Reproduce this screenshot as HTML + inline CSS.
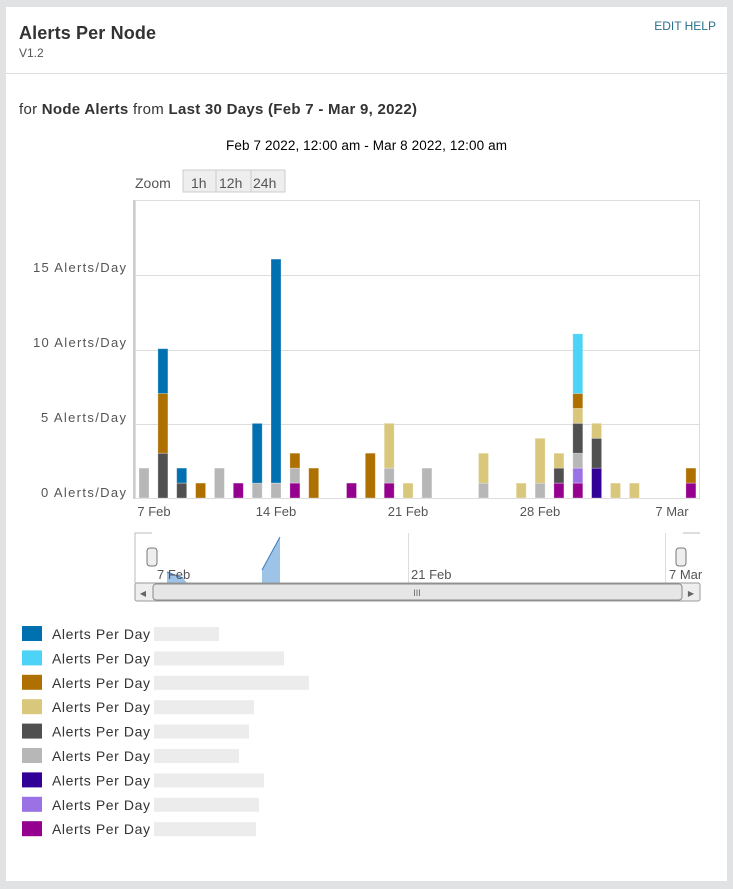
<!DOCTYPE html>
<html><head><meta charset="utf-8"><style>
body{margin:0;background:#e1e2e3;width:733px;height:889px;overflow:hidden;font-family:"Liberation Sans",sans-serif}
.card{position:absolute;left:6px;top:7px;width:721px;height:874px;background:#fff}
</style></head><body>
<div class="card"></div>
<svg id="s" width="733" height="889" style="position:absolute;left:0;top:0" font-family="Liberation Sans, sans-serif">
<text x="19" y="39" font-size="18" font-weight="bold" fill="#333" textLength="137">Alerts Per Node</text>
<text x="19" y="57" font-size="12" fill="#555">V1.2</text>
<text x="716" y="30" font-size="12" fill="#2a6f8f" text-anchor="end">EDIT  HELP</text>
<line x1="6" y1="73.5" x2="727" y2="73.5" stroke="#ddd"/>
<text x="19" y="114" font-size="15" fill="#333" textLength="398">for <tspan font-weight="bold">Node Alerts</tspan> from <tspan font-weight="bold">Last 30 Days (Feb 7 - Mar 9, 2022)</tspan></text>
<text x="226" y="150" font-size="13.5" fill="#000" textLength="281">Feb 7 2022, 12:00 am - Mar 8 2022, 12:00 am</text>
<text x="135" y="188" font-size="14" fill="#555">Zoom</text>
<g font-size="14" fill="#555"><rect x="183" y="170" width="102" height="22" fill="#eee" stroke="#ccc"/>
<line x1="216" y1="170" x2="216" y2="192" stroke="#ccc"/><line x1="251" y1="170" x2="251" y2="192" stroke="#ccc"/>
<text x="191" y="188">1h</text><text x="219" y="188">12h</text><text x="253" y="188">24h</text></g>
<rect x="135.5" y="200.5" width="564" height="298" fill="none" stroke="#ddd"/>
<line x1="134" y1="200" x2="134" y2="499" stroke="#ccc" stroke-width="2"/>
<g stroke="#ddd"><line x1="135" y1="275.5" x2="699" y2="275.5"/><line x1="135" y1="350.5" x2="699" y2="350.5"/><line x1="135" y1="424.5" x2="699" y2="424.5"/></g>
<g font-size="13" fill="#555"><text x="33" y="272" textLength="93">15 Alerts/Day</text><text x="33" y="347" textLength="93">10 Alerts/Day</text><text x="41" y="422" textLength="85">5 Alerts/Day</text><text x="41" y="497" textLength="85">0 Alerts/Day</text></g>
<g id="bars"></g>
<g font-size="13" fill="#555" text-anchor="middle"><text x="154" y="516">7 Feb</text><text x="276" y="516">14 Feb</text><text x="408" y="516">21 Feb</text><text x="540" y="516">28 Feb</text><text x="672" y="516">7 Mar</text></g>
<path d="M152 533H135V583M683 533H700" fill="none" stroke="#bbb"/>
<line x1="408.5" y1="533" x2="408.5" y2="583" stroke="#ddd"/><line x1="665.5" y1="533" x2="665.5" y2="583" stroke="#ddd"/>
<path d="M167 583V572L183 578L187 583Z" fill="#9dc3e6"/><path d="M167 572L183 578" stroke="#3a7cc0"/>
<path d="M262 583V570L280 537V583Z" fill="#9dc3e6"/><path d="M262 570L280 537" stroke="#3a7cc0"/>
<g font-size="13" fill="#555"><text x="157" y="579">7 Feb</text><text x="411" y="579">21 Feb</text><text x="669" y="579">7 Mar</text></g>
<rect x="147" y="548" width="10" height="18" rx="3" fill="#eee" stroke="#777"/><rect x="676" y="548" width="10" height="18" rx="3" fill="#eee" stroke="#777"/>
<rect x="135" y="583" width="565" height="18" rx="2" fill="#eee" stroke="#999"/>
<rect x="153" y="584" width="529" height="16" rx="3" fill="#e6e6e6" stroke="#888"/>
<text x="143" y="596" font-size="8" fill="#666" text-anchor="middle">◀</text><text x="691" y="596" font-size="8" fill="#666" text-anchor="middle">▶</text>
<text x="417" y="596" font-size="9" fill="#666" text-anchor="middle">III</text>
<g id="leg" font-size="14" fill="#333"></g>
</svg>
<script>
var C={b:'#0070b0',c:'#4cd3f5',o:'#ae7000',t:'#d9c77b',d:'#505050',g:'#b7b7b7',i:'#320096',l:'#9b72e6',p:'#95008f'};
var D={0:'g2',1:'d3o4b3',2:'d1b1',3:'o1',4:'g2',5:'p1',6:'g1b4',7:'g1b15',8:'p1g1o1',9:'o2',11:'p1',12:'o3',13:'p1g1t3',14:'t1',15:'g2',18:'g1t2',20:'t1',21:'g1t3',22:'p1d1t1',23:'p1l1g1d2t1o1c4',24:'i2d2t1',25:'t1',26:'t1',29:'p1o1'};
var s='',u=14.93;
for(var k in D){var x=144+k*18.86-5,y=498,m=D[k].match(/[a-z]\d+/g);
m.forEach(function(q){var h=+q.slice(1)*u;y-=h;s+='<rect x="'+x.toFixed(1)+'" y="'+y.toFixed(1)+'" width="10" height="'+h.toFixed(1)+'" fill="'+C[q[0]]+'" stroke="rgba(255,255,255,0.35)" stroke-width="0.8"/>';});}
document.getElementById('bars').innerHTML=s;
var L='bcotdgilp',w=[65,130,155,100,95,85,110,105,102],l='';
for(var i=0;i<9;i++){var y=626+i*24.4;l+='<rect x="22" y="'+y+'" width="20" height="15" fill="'+C[L[i]]+'"/><text x="52" y="'+(y+13)+'" textLength="98">Alerts Per Day</text><rect x="154" y="'+(y+1)+'" width="'+w[i]+'" height="14" fill="#ececec"/>';}
document.getElementById('leg').innerHTML=l;
</script>
</body></html>
